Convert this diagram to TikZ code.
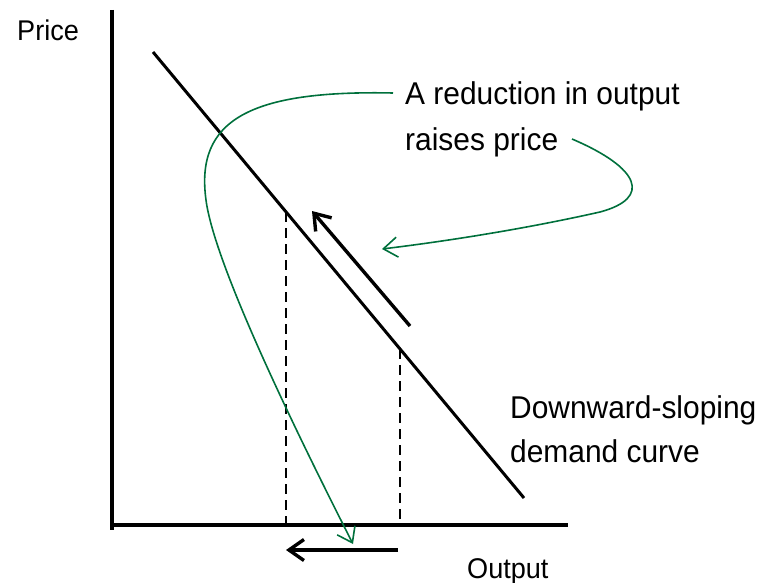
\documentclass[tikz,border=0pt]{standalone}
\usepackage{fontspec}
\setmainfont{Liberation Sans}[FakeStretch=0.95]
\usetikzlibrary{arrows.meta}
\definecolor{curvegreen}{RGB}{0,112,60}
\begin{document}
\begin{tikzpicture}[x=1pt,y=-1pt,
  axis/.style={line width=3.6pt},
  demand/.style={line width=3pt},
  guide/.style={line width=2.4pt,dash pattern=on 10pt off 6pt},
  move/.style={line width=3.4pt,-{Straight Barb[length=15pt,width=21pt,line width=3.4pt]}},
  note/.style={curvegreen,line width=1.6pt,-{Straight Barb[length=14pt,width=20pt,line width=1.6pt]}},
  lbl/.style={inner sep=0pt,anchor=base west,font=\fontsize{31.5}{44}\selectfont},
  axlbl/.style={inner sep=0pt,anchor=base west,font=\fontsize{28.5}{32}\selectfont}]
\useasboundingbox (0,0) rectangle (760,583);
% axes
\coordinate (ytop) at (112,10);
\coordinate (orig) at (112,530);
\coordinate (xend) at (568,525);
\draw[axis] (ytop) -- (orig);
\draw[axis] (110,525) -- (xend);
% demand line
\coordinate (d1) at (153,52);
\coordinate (d2) at (524,498);
\draw[demand] (d1) -- (d2);
% dashed guides
\coordinate (q1top) at (286,212);
\coordinate (q1bot) at (286,523);
\coordinate (q2top) at (400,349);
\coordinate (q2bot) at (400,523);
\draw[guide] (q1top) -- (q1bot);
\draw[guide] (q2top) -- (q2bot);
% movement arrows
\coordinate (m1a) at (410,326);
\coordinate (m1b) at (312,211);
\draw[move] (m1a) -- (m1b);
\coordinate (m2a) at (398,550);
\coordinate (m2b) at (286,550);
\draw[move] (m2a) -- (m2b);
% labels
\node[axlbl] (price) at (17,41) {Price};
\node[axlbl] (output) at (467,578) {Output};
\node[lbl] (t1) at (405,105) {A reduction in output};
\node[lbl] (t2) at (405,150) {raises price};
\node[lbl] (t3) at (510,418) {Downward-sloping};
\node[lbl] (t4) at (510,462) {demand curve};
% green annotation curves
\coordinate (g1s) at (393,93);
\coordinate (g1e) at (353,544);
\draw[note] (g1s) .. controls (250,90) and (195,120) .. (206,200)
  .. controls (214,262) and (290,420) .. (g1e);
\coordinate (g2s) at (572,139);
\coordinate (g2e) at (382,249);
\draw[note] (g2s) .. controls (640,168) and (652,198) .. (600,212)
  .. controls (520,230) and (440,242) .. (g2e);
\end{tikzpicture}
\end{document}
